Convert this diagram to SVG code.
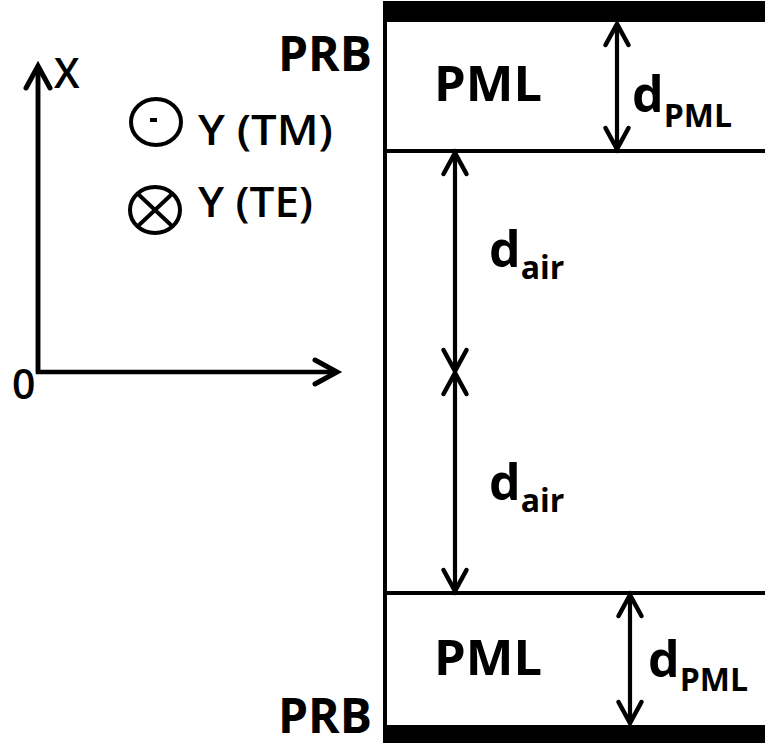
<svg xmlns="http://www.w3.org/2000/svg" width="765" height="747" viewBox="0 0 765 747">
  <style>
    .t { font-family: "Open Sans", "Liberation Sans", sans-serif; font-weight: 700; fill: #000; }
    .big { font-size: 48px; }
    .dd { font-size: 50px; }
    .sub { font-size: 32px; }
    .leg { font-size: 41px; font-weight: 600; }
    .ln { stroke: #000; stroke-width: 4; fill: none; }
    .arr { stroke: #000; stroke-width: 4.2; fill: none; marker-start: url(#chev); marker-end: url(#chev); }
    .axis { stroke: #000; stroke-width: 4.5; fill: none; }
  </style>
  <defs>
    <marker id="chev" markerUnits="userSpaceOnUse" viewBox="-26 -15 30 30" refX="0" refY="0" markerWidth="30" markerHeight="30" orient="auto-start-reverse" overflow="visible">
      <path d="M-21,-11.5 L0,0 L-21,11.5" stroke="#000" stroke-width="4.5" fill="none" stroke-linecap="round" stroke-linejoin="miter"/>
    </marker>
    <marker id="chevAx" markerUnits="userSpaceOnUse" viewBox="-26 -15 30 30" refX="0" refY="0" markerWidth="30" markerHeight="30" orient="auto" overflow="visible">
      <path d="M-22,-12 L0,0 L-22,12" stroke="#000" stroke-width="5" fill="none" stroke-linecap="round"/>
    </marker>
  </defs>
  <rect width="765" height="747" fill="#fff"/>

  <g id="axes">
    <path class="axis" d="M38,66 L38,372 L337,372" marker-end="url(#chevAx)"/>
    <path class="axis" d="M38,372 L38,66" marker-end="url(#chevAx)"/>
    <text class="t leg" x="54" y="88">X</text>
    <text class="t leg" x="12" y="399">0</text>
  </g>

  <g id="legend">
    <g id="tm">
      <ellipse cx="156" cy="122" rx="25" ry="23" class="ln" stroke-width="3.5"/>
      <line x1="150" y1="120" x2="157" y2="120" class="ln" stroke-width="3"/>
      <text class="t leg" x="198" y="145" textLength="135" lengthAdjust="spacingAndGlyphs">Y (TM)</text>
    </g>
    <g id="te">
      <ellipse cx="155" cy="210" rx="25" ry="23" class="ln" stroke-width="3.5"/>
      <line x1="138" y1="194" x2="172" y2="226" class="ln" stroke-width="3.5"/>
      <line x1="172" y1="194" x2="138" y2="226" class="ln" stroke-width="3.5"/>
      <text class="t leg" x="198" y="217" textLength="115" lengthAdjust="spacingAndGlyphs">Y (TE)</text>
    </g>
  </g>

  <g id="structure">
    <g id="prb-top">
      <rect x="383" y="1" width="382" height="21" fill="#000"/>
      <text class="t big" x="278" y="71" textLength="94" lengthAdjust="spacingAndGlyphs">PRB</text>
    </g>
    <g id="pml-top">
      <line x1="385" y1="151" x2="765" y2="151" class="ln"/>
      <text class="t big" x="434" y="101" textLength="108" lengthAdjust="spacingAndGlyphs">PML</text>
    </g>
    <g id="air">
      <line x1="385" y1="1" x2="385" y2="743" class="ln"/>
    </g>
    <g id="pml-bottom">
      <line x1="385" y1="593" x2="765" y2="593" class="ln"/>
      <text class="t big" x="434" y="675" textLength="108" lengthAdjust="spacingAndGlyphs">PML</text>
    </g>
    <g id="prb-bottom">
      <rect x="383" y="725" width="382" height="18" fill="#000"/>
      <text class="t big" x="278" y="733" textLength="94" lengthAdjust="spacingAndGlyphs">PRB</text>
    </g>
  </g>

  <g id="connectors">
    <line class="arr" x1="617" y1="24" x2="617" y2="149"/>
    <line class="arr" x1="455" y1="153" x2="455" y2="371"/>
    <line class="arr" x1="455" y1="373" x2="455" y2="591"/>
    <line class="arr" x1="630" y1="595" x2="630" y2="723"/>
  </g>

  <g id="labels">
    <text class="t dd" x="632" y="112">d<tspan class="sub" dy="15">PML</tspan></text>
    <text class="t dd" x="489" y="267">d<tspan class="sub" dy="12">air</tspan></text>
    <text class="t dd" x="489" y="500">d<tspan class="sub" dy="12">air</tspan></text>
    <text class="t dd" x="648" y="677">d<tspan class="sub" dy="14">PML</tspan></text>
  </g>
</svg>
